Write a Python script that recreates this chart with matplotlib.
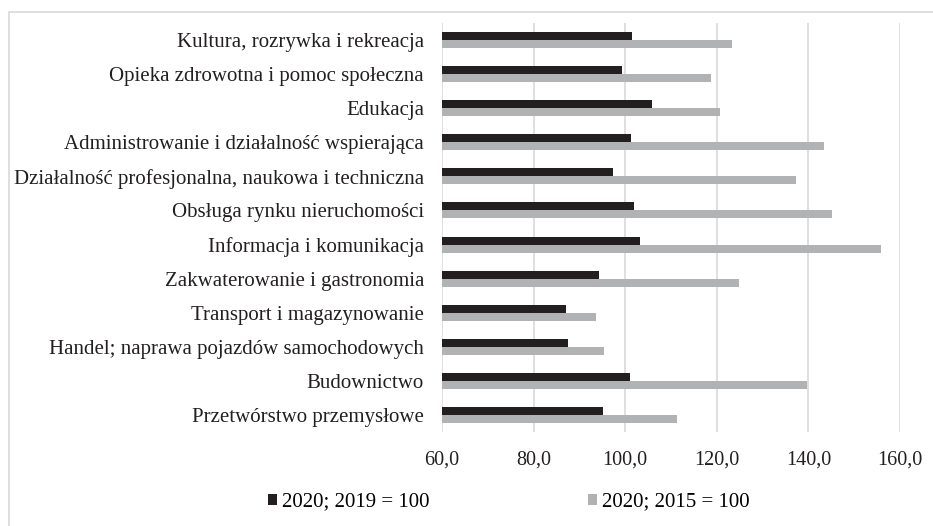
import matplotlib
matplotlib.use("Agg")
from matplotlib import pyplot as plt
from matplotlib.patches import Rectangle
import numpy as np

# kategorie od góry do dołu
categories = [
    "Kultura, rozrywka i rekreacja",
    "Opieka zdrowotna i pomoc społeczna",
    "Edukacja",
    "Administrowanie i działalność wspierająca",
    "Działalność profesjonalna, naukowa i techniczna",
    "Obsługa rynku nieruchomości",
    "Informacja i komunikacja",
    "Zakwaterowanie i gastronomia",
    "Transport i magazynowanie",
    "Handel; naprawa pojazdów samochodowych",
    "Budownictwo",
    "Przetwórstwo przemysłowe",
]
vs_2019 = [101.5, 99.4, 105.9, 101.3, 97.3, 102.0, 103.2, 94.3, 87.1, 87.5, 101.0, 95.1]
vs_2015 = [123.4, 118.7, 120.8, 143.5, 137.3, 145.1, 155.9, 124.8, 93.7, 95.4, 139.6, 111.3]
xticks = [60, 80, 100, 120, 140, 160]
labels = ["2020; 2019 = 100", "2020; 2015 = 100"]

plt.rcParams['font.family'] = ['Liberation Serif', 'DejaVu Serif']

fig = plt.figure(figsize=(9.33, 5.26), dpi=100)
ax = fig.add_axes([0.4737, 0.1787, 0.4909, 0.7776])

y = np.arange(len(categories))
h = 0.235
ax.barh(y - h / 2, [v - 60 for v in vs_2019], left=60, height=h, color="#231f20", label=labels[0])
ax.barh(y + h / 2, [v - 60 for v in vs_2015], left=60, height=h, color="#b1b2b4", label=labels[1])

ax.set_xlim(60, 160)
ax.set_ylim(len(categories) - 0.5, -0.5)
ax.set_xticks(xticks)
ax.set_xticklabels(["%d,0" % t for t in xticks], fontsize=14.5)
ax.set_yticks(y)
ax.set_yticklabels(categories, fontsize=15)
ax.tick_params(axis="both", length=0, colors="#231f20")
ax.tick_params(axis="y", pad=13)
ax.tick_params(axis="x", pad=13)
ax.grid(axis="x", color="#d9d9d9", linewidth=1.2)
ax.set_axisbelow(True)
for s in ax.spines.values():
    s.set_visible(False)

fig.legend(loc="center", bbox_to_anchor=(0.5456, 0.0456), ncol=2, frameon=False,
           fontsize=15, handlelength=0.43, handleheight=0.43, handletextpad=0.24,
           columnspacing=7.6, borderpad=0, borderaxespad=0)

fig.patches.append(Rectangle((9 / 933, -0.1), 1.2, 1 - 12 / 526 + 0.1, transform=fig.transFigure,
                             fill=False, edgecolor="#d9d9d9", linewidth=1.2))

plt.savefig("out.png", dpi=100)
